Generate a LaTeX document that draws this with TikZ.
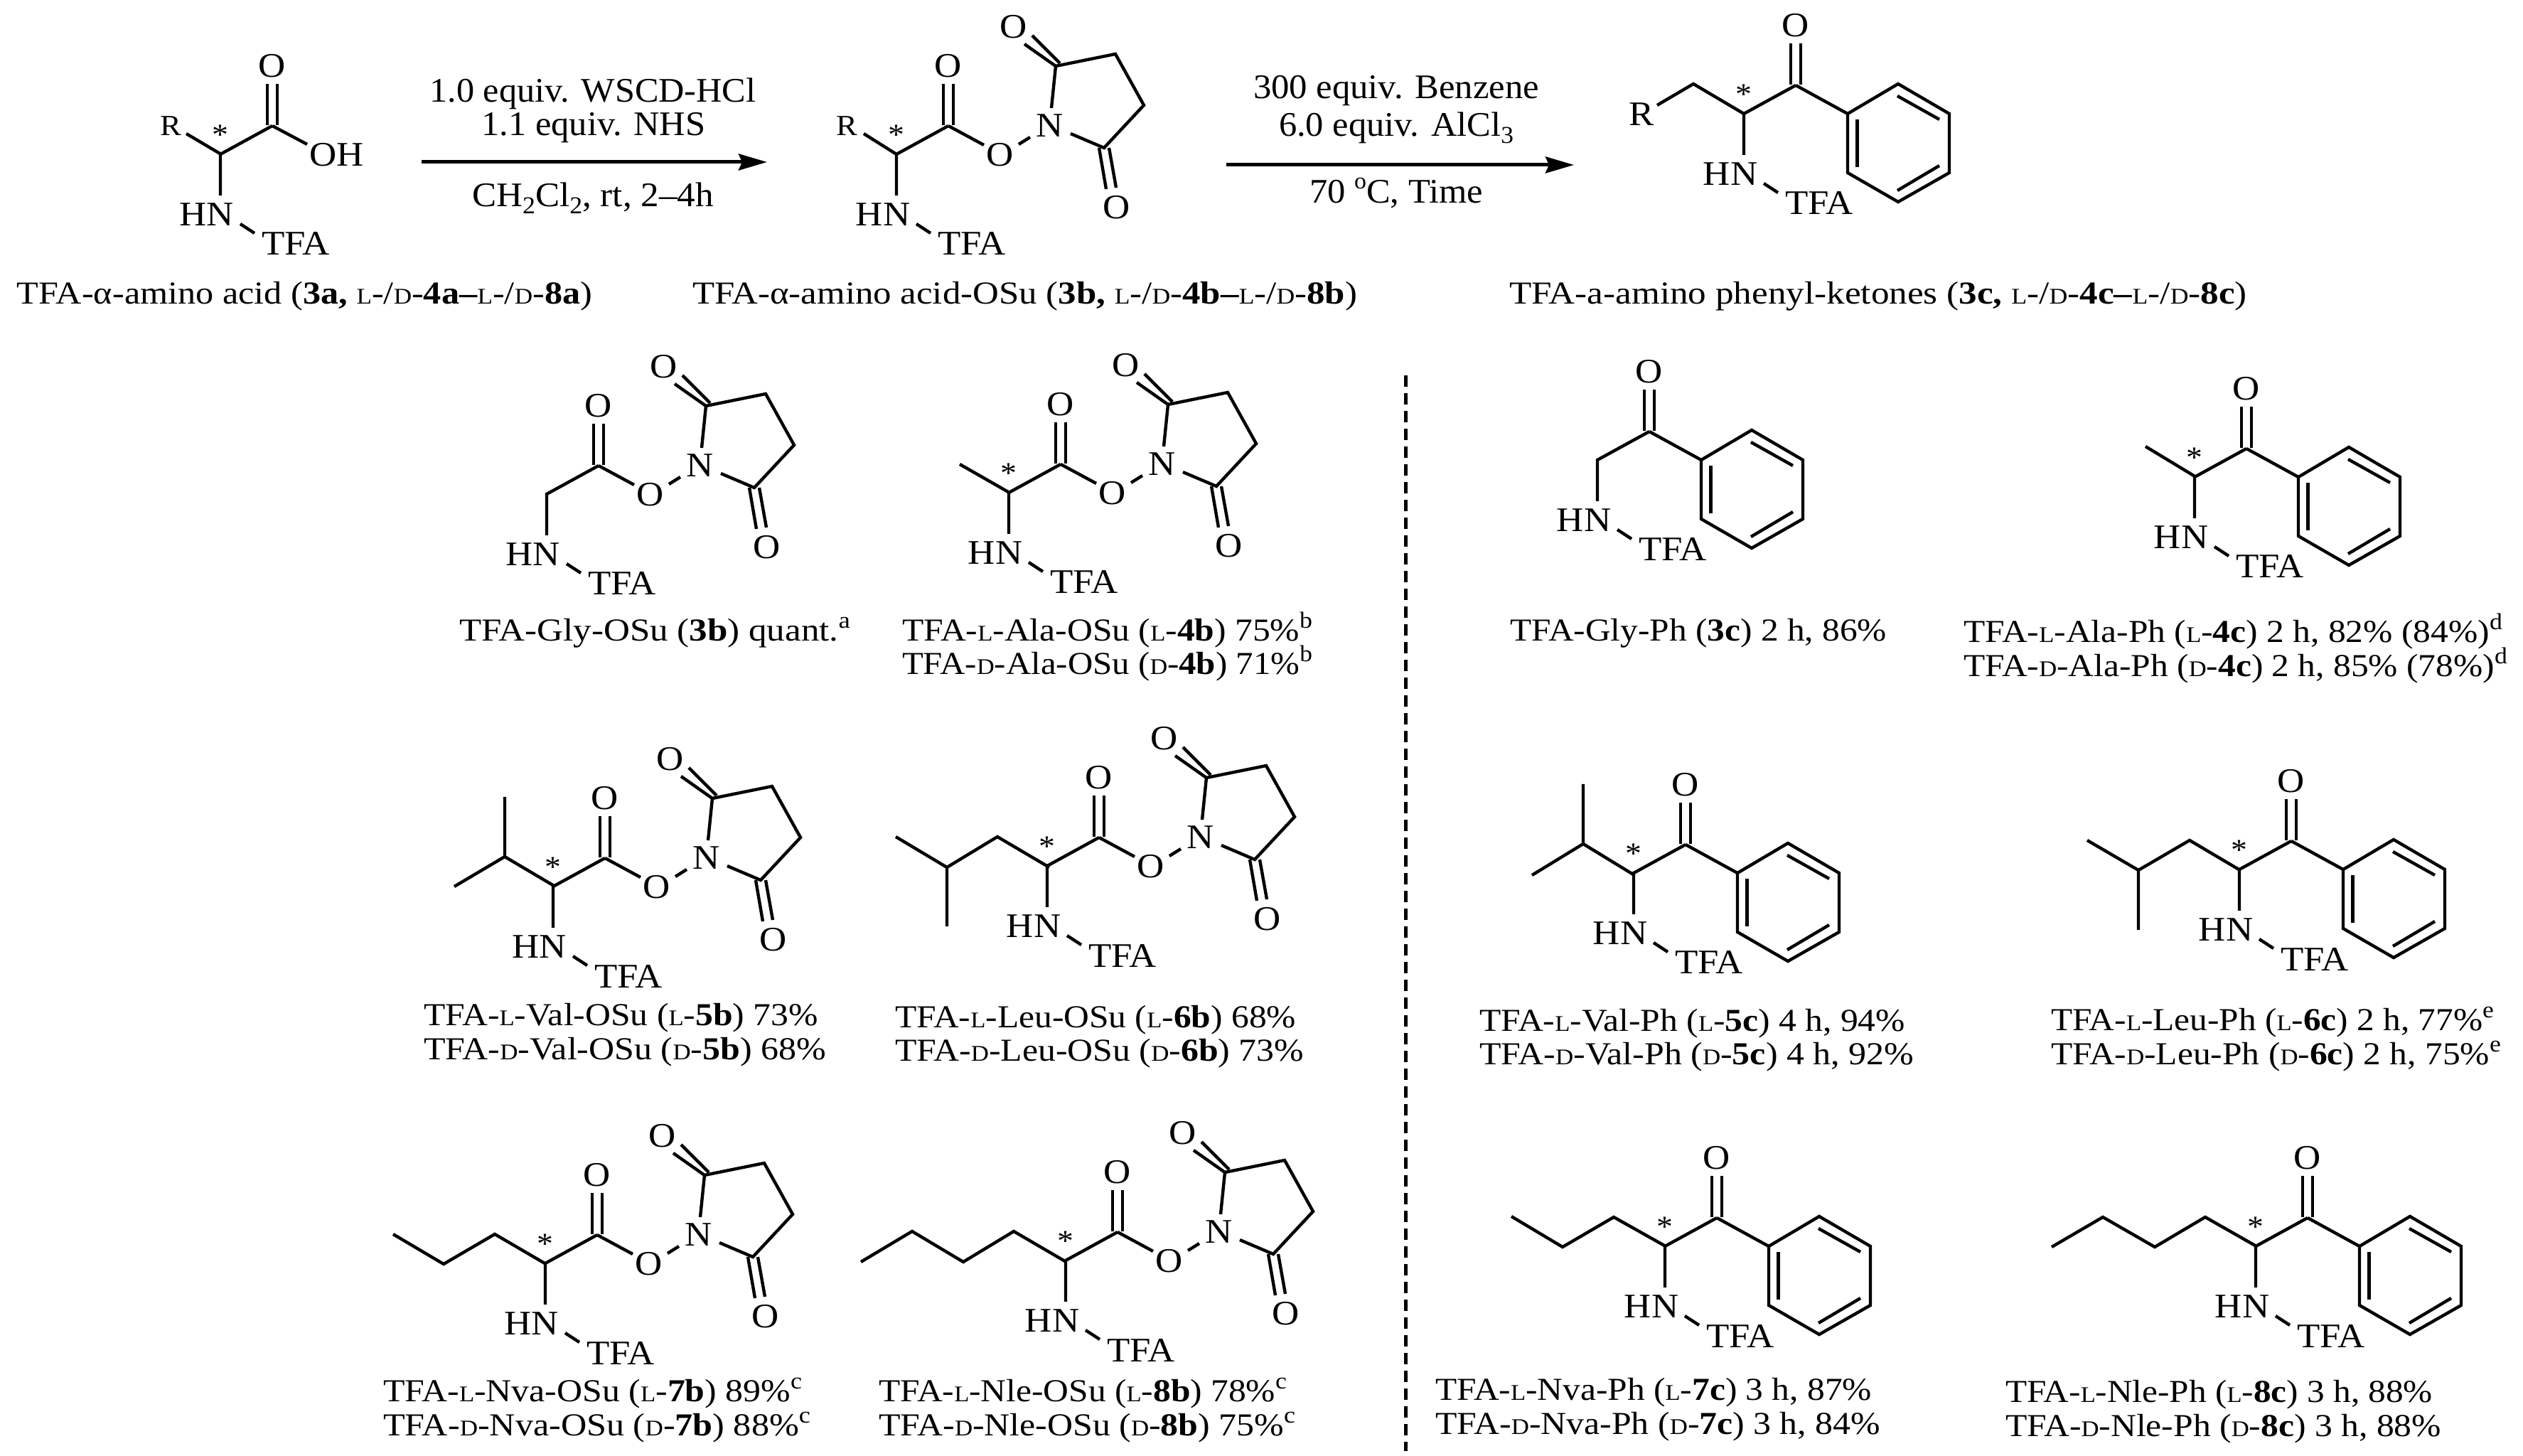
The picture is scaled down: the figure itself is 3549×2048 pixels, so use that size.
\documentclass[tikz,border=0pt]{standalone}
\usepackage{graphicx}
\usepackage{fontspec}
\setmainfont[FakeStretch=1.09]{Liberation Serif}
\usetikzlibrary{arrows.meta}
\newlength{\pxu}\setlength{\pxu}{0.2pt}
\newcommand{\Ls}{{\fontsize{6.3}{7}\selectfont L}}
\newcommand{\Ds}{{\fontsize{6.3}{7}\selectfont D}}
\newcommand{\sups}[1]{\raisebox{0.9ex}{\fontsize{6.5}{7}\selectfont #1}}
\newcommand{\subs}[1]{\raisebox{-0.45ex}{\fontsize{6.8}{7}\selectfont #1}}
\tikzset{
  bond/.style={line width=0.88pt,line join=miter,line cap=butt},
  atom/.style={inner sep=0pt,font=\fontsize{9.7}{10}\selectfont},
  smallatom/.style={inner sep=0pt,font=\fontsize{8.2}{9}\selectfont},
  stereo/.style={inner sep=0pt,yshift=-1pt,font=\fontsize{8.4}{9}\selectfont},
  capt/.style={inner sep=0pt,anchor=base west,font=\fontsize{9}{10}\selectfont},
  reag/.style={inner sep=0pt,anchor=center,font=\fontsize{9.7}{10}\selectfont},
  rxn/.style={line width=1pt,-{Stealth[length=8pt,width=4.6pt,inset=1pt]}},
}
% core shared by all compounds: origin is the carbonyl carbon
\newcommand{\core}{%
  \draw[bond] (-7,-1) -- (-7,-59) (7,-1) -- (7,-59);
  \draw[bond] (0,0) -- (-73,40) -- (-73,98);
  \node[atom] (o1) at (0,-84) {O};
  \node[atom] (hn) at (-92,125) {HN};
  \node[atom] (tfa) at (33,166) {TFA};
  \coordinate (hna) at (-45,138);
  \coordinate (tfb) at (-25,151);
  \draw[bond] (hna) -- (tfb);
}
\newcommand{\osu}{%
  \core
  \node[atom] (oe) at (73,41) {O};
  \node[atom] (nn) at (143,0) {N};
  \node[atom] (o2) at (92,-139) {O};
  \node[atom] (o3) at (237,115) {O};
  \draw[bond] (0,0) -- (50,27);
  \draw[bond] (99,26) -- (115,16);
  \draw[bond] (145,-25) -- (151,-84) -- (235,-101) -- (275,-29) -- (219,31) -- (172,11);
  \draw[bond] (107,-115) -- (151,-84);
  \draw[bond] (118,-127) -- (157,-88);
  \draw[bond] (212,31) -- (222,89) (226,31) -- (236,87);
}
\newcommand{\phk}{%
  \core
  \draw[bond] (0,0) -- (73,40);
  \draw[bond] (73,40) -- (144,-2) -- (216,40) -- (216,123) -- (144,164) -- (73,123) -- cycle;
  \draw[bond] (86.4,48) -- (86.4,115);
  \draw[bond] (143,15) -- (202,48);
  \draw[bond] (202,113) -- (143,148);
}
\newcommand{\stc}{\node[stereo] at (-73,8) {*};}
% x, baseline y, printed width, text (all in reference pixels)
\newcommand{\capl}[4]{\node[capt] at (#1,#2) {\resizebox{#3\pxu}{\height}{#4}};}
\begin{document}
\begin{tikzpicture}[x=0.2pt,y=-0.2pt]
\useasboundingbox (0,0) rectangle (3549,2048);
% ---------- top scheme
\begin{scope}[shift={(383,177)},name prefix=a-]
  \core \stc
  \draw[bond] (-72,40) -- (-121,11);
  \draw[bond] (0,0) -- (49,26);
  \node[smallatom] (r) at (-143,0) {R};
  \node[atom] (oh) at (91,41) {OH};
\end{scope}
\begin{scope}[shift={(1334,177)},name prefix=b-]
  \osu \stc
  \draw[bond] (-73,40) -- (-119,11);
  \node[smallatom] (r) at (-143,0) {R};
\end{scope}
\begin{scope}[shift={(2526,120)},name prefix=c-]
  \phk \stc
  \draw[bond] (-73,40) -- (-144,-2) -- (-195,28);
  \node[atom] (r) at (-217,41) {R};
\end{scope}
\coordinate (a1) at (593,228); \coordinate (a2) at (1079,228);
\coordinate (a3) at (1725,232); \coordinate (a4) at (2214,232);
\draw[rxn] (a1) -- (a2);
\draw[rxn] (a3) -- (a4);
\node[reag] (r1) at (834,132) {\resizebox{459\pxu}{\height}{1.0 equiv. WSCD-HCl}};
\node[reag] (r2) at (835,180) {\resizebox{315\pxu}{\height}{1.1 equiv. NHS}};
\node[reag] (r3) at (834,279) {\resizebox{340\pxu}{\height}{CH\subs{2}Cl\subs{2}, rt, 2--4h}};
\node[reag] (r4) at (1964,128) {\resizebox{402\pxu}{\height}{300 equiv. Benzene}};
\node[reag] (r5) at (1964,180) {\resizebox{330\pxu}{\height}{6.0 equiv. AlCl\subs{3}}};
\node[reag] (r6) at (1964,272) {\resizebox{244\pxu}{\height}{70 \sups{o}C, Time}};
\capl{23}{428}{809}{TFA-α-amino acid (\textbf{3a,} \Ls-/\Ds-\textbf{4a--}\Ls-/\Ds-\textbf{8a})}
\capl{973}{428}{935}{TFA-α-amino acid-OSu (\textbf{3b,} \Ls-/\Ds-\textbf{4b--}\Ls-/\Ds-\textbf{8b})}
\capl{2122}{428}{1038}{TFA-a-amino phenyl-ketones (\textbf{3c,} \Ls-/\Ds-\textbf{4c--}\Ls-/\Ds-\textbf{8c})}
% ---------- divider
\coordinate (d1) at (1977,528); \coordinate (d2) at (1977,2041);
\draw[line width=1pt,dash pattern=on 3.2pt off 1.8pt] (d1) -- (d2);
% ---------- OSu esters
\begin{scope}[shift={(842,655)},name prefix=m1-]
  \osu
\end{scope}
\capl{645}{902}{550}{TFA-Gly-OSu (\textbf{3b}) quant.\sups{a}}
\begin{scope}[shift={(1492,653)},name prefix=m2-]
  \osu \stc
  \draw[bond] (-72,40) -- (-142,0);
\end{scope}
\capl{1268}{902}{577}{TFA-\Ls-Ala-OSu (\Ls-\textbf{4b}) 75\%\sups{b}}
\capl{1268}{949}{577}{TFA-\Ds-Ala-OSu (\Ds-\textbf{4b}) 71\%\sups{b}}
\begin{scope}[shift={(851,1207)},name prefix=m3-]
  \osu \stc
  \draw[bond] (-70,40) -- (-141,-2) -- (-141,-86);
  \draw[bond] (-141,-2) -- (-212,40);
\end{scope}
\capl{595}{1443}{555}{TFA-\Ls-Val-OSu (\Ls-\textbf{5b}) 73\%}
\capl{595}{1491}{566}{TFA-\Ds-Val-OSu (\Ds-\textbf{5b}) 68\%}
\begin{scope}[shift={(1546,1178)},name prefix=m4-]
  \osu \stc
  \draw[bond] (-70,42) -- (-143,-1) -- (-214,42) -- (-214,125);
  \draw[bond] (-214,42) -- (-286,-1);
\end{scope}
\capl{1258}{1446}{564}{TFA-\Ls-Leu-OSu (\Ls-\textbf{6b}) 68\%}
\capl{1258}{1493}{575}{TFA-\Ds-Leu-OSu (\Ds-\textbf{6b}) 73\%}
\begin{scope}[shift={(840,1737)},name prefix=m5-]
  \osu \stc
  \draw[bond] (-72,41) -- (-144,-1) -- (-216,41) -- (-287,-1);
\end{scope}
\capl{538}{1972}{589}{TFA-\Ls-Nva-OSu (\Ls-\textbf{7b}) 89\%\sups{c}}
\capl{538}{2020}{601}{TFA-\Ds-Nva-OSu (\Ds-\textbf{7b}) 88\%\sups{c}}
\begin{scope}[shift={(1572,1733)},name prefix=m6-]
  \osu \stc
  \draw[bond] (-74,41) -- (-146,-1) -- (-217,42) -- (-289,-1) -- (-361,42);
\end{scope}
\capl{1235}{1972}{574}{TFA-\Ls-Nle-OSu (\Ls-\textbf{8b}) 78\%\sups{c}}
\capl{1235}{2020}{586}{TFA-\Ds-Nle-OSu (\Ds-\textbf{8b}) 75\%\sups{c}}
% ---------- phenyl ketones
\begin{scope}[shift={(2320,607)},name prefix=k1-]
  \phk
\end{scope}
\capl{2123}{902}{530}{TFA-Gly-Ph (\textbf{3c}) 2 h, 86\%}
\begin{scope}[shift={(3160,631)},name prefix=k2-]
  \phk \stc
  \draw[bond] (-71,40) -- (-142,-3);
\end{scope}
\capl{2761}{904}{758}{TFA-\Ls-Ala-Ph (\Ls-\textbf{4c}) 2 h, 82\% (84\%)\sups{d}}
\capl{2761}{952}{765}{TFA-\Ds-Ala-Ph (\Ds-\textbf{4c}) 2 h, 85\% (78\%)\sups{d}}
\begin{scope}[shift={(2371,1188)},name prefix=k3-]
  \phk \stc
  \draw[bond] (-72,43) -- (-144,-1) -- (-144,-85);
  \draw[bond] (-144,-1) -- (-216,43);
\end{scope}
\capl{2080}{1451}{599}{TFA-\Ls-Val-Ph (\Ls-\textbf{5c}) 4 h, 94\%}
\capl{2080}{1498}{611}{TFA-\Ds-Val-Ph (\Ds-\textbf{5c}) 4 h, 92\%}
\begin{scope}[shift={(3223,1183)},name prefix=k4-]
  \phk \stc
  \draw[bond] (-72,41) -- (-143,-1) -- (-215,41) -- (-215,125);
  \draw[bond] (-215,41) -- (-287,-1);
\end{scope}
\capl{2884}{1450}{623}{TFA-\Ls-Leu-Ph (\Ls-\textbf{6c}) 2 h, 77\%\sups{e}}
\capl{2884}{1498}{633}{TFA-\Ds-Leu-Ph (\Ds-\textbf{6c}) 2 h, 75\%\sups{e}}
\begin{scope}[shift={(2415,1713)},name prefix=k5-]
  \phk \stc
  \draw[bond] (-72,40) -- (-145,-1) -- (-217,41) -- (-289,-2);
\end{scope}
\capl{2018}{1970}{614}{TFA-\Ls-Nva-Ph (\Ls-\textbf{7c}) 3 h, 87\%}
\capl{2018}{2018}{626}{TFA-\Ds-Nva-Ph (\Ds-\textbf{7c}) 3 h, 84\%}
\begin{scope}[shift={(3246,1713)},name prefix=k6-]
  \phk \stc
  \draw[bond] (-72,40) -- (-144,-1) -- (-215,41) -- (-288,-1) -- (-360,41);
\end{scope}
\capl{2820}{1973}{601}{TFA-\Ls-Nle-Ph (\Ls-\textbf{8c}) 3 h, 88\%}
\capl{2820}{2021}{613}{TFA-\Ds-Nle-Ph (\Ds-\textbf{8c}) 3 h, 88\%}
\end{tikzpicture}
\end{document}
